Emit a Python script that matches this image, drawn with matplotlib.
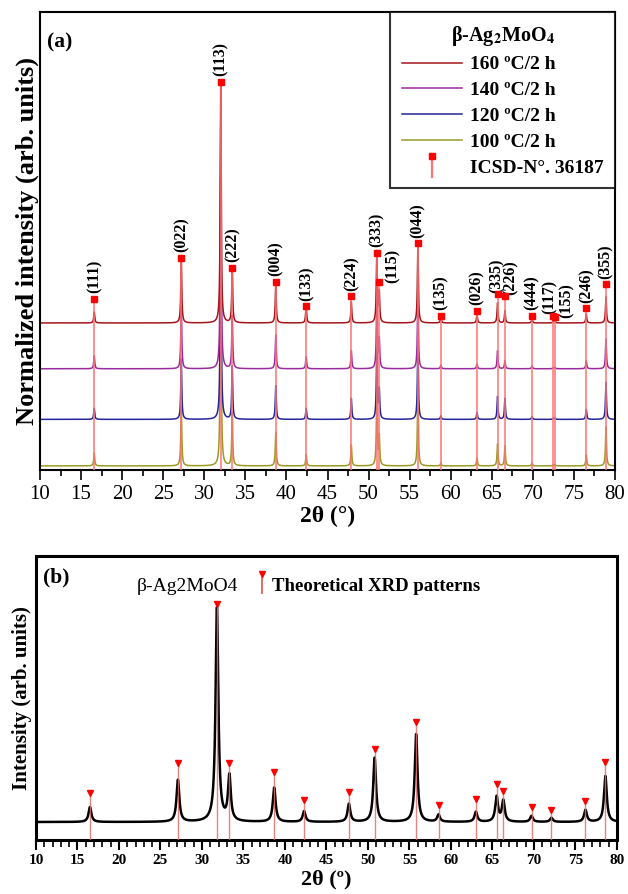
import numpy as np
import matplotlib
matplotlib.use("Agg")
import matplotlib.pyplot as plt
from matplotlib.legend_handler import HandlerBase
from matplotlib.lines import Line2D
from matplotlib.ticker import MultipleLocator


# ------------------------------------------------------------
# Panel (a): measured patterns + ICSD reference reflections
# ------------------------------------------------------------
hkl_labels = ["(111)", "(022)", "(113)", "(222)", "(004)", "(133)", "(224)",
              "(333)", "(115)", "(044)", "(135)", "(026)", "(335)", "(226)",
              "(444)", "(117)", "(155)", "(246)", "(355)"]
hkl_pos = [16.6, 27.2, 32.0, 33.4, 38.7, 42.4, 47.9, 51.0, 51.3, 56.0, 58.8,
           63.2, 65.7, 66.6, 69.9, 72.5, 72.7, 76.5, 78.9]
icsd_int = [10, 27, 100, 23, 17, 7, 11, 29, 17, 33, 3, 5, 12, 11, 3, 3, 2.5, 6, 16]

sample_labels = ["160 ºC/2 h", "140 ºC/2 h", "120 ºC/2 h", "100 ºC/2 h"]
int_160 = [4.6, 27, 100, 23, 16.6, 7.5, 8.7, 29.5, 12.4, 32, 2.5, 3.7, 8.3, 5.0, 1.7, 0.8, 0.8, 3.7, 10.8]
int_140 = [5.4, 26, 100, 22, 14, 5.0, 7.5, 28, 12, 31, 1.5, 2.0, 7.5, 3.3, 1.2, 0.5, 0.5, 3.3, 12.4]
int_120 = [4.6, 25, 100, 22, 14, 4.6, 8.7, 29, 12, 32, 1.5, 2.9, 9.5, 8.7, 1.2, 0.5, 0.5, 4.1, 15.4]
int_100 = [5.4, 25, 100, 22, 14, 4.6, 8.7, 29, 12, 32, 1.2, 3.3, 9.1, 8.3, 1.2, 0.5, 0.5, 4.6, 16.2]

# ------------------------------------------------------------
# Panel (b): theoretical pattern
# ------------------------------------------------------------
theo_pos = [16.5, 27.1, 31.8, 33.3, 38.7, 42.3, 47.7, 50.8, 55.8, 58.5, 63.0,
            65.5, 66.3, 69.7, 72.1, 76.2, 78.6]
theo_peak = [7, 19.6, 100, 21, 16, 5, 8.4, 30, 41, 3.3, 4.7, 11.7, 9.8, 2.8, 1.9, 5.6, 21.5]
theo_stick = [13.5, 27.6, 102, 27.6, 23.4, 10.3, 14, 34, 46.7, 8, 10.7, 17.8, 14.5, 7, 5.6, 9.8, 28]

plt.rcParams["font.family"] = ["Liberation Serif", "DejaVu Serif"]
plt.rcParams["mathtext.fontset"] = "stix"

colors = ["#a3161b", "#9a2b9e", "#25269a", "#9c9a24"]
offsets = [0.61, 0.42, 0.21, 0.017]
stem_color = "#ff7373"


def lorentz_pattern(x, centers, heights, hwhm):
    y = np.zeros_like(x)
    for c, h in zip(centers, heights):
        y += h / (1.0 + ((x - c) / hwhm) ** 2)
    return y


class StemHandler(HandlerBase):
    """Legend key: short vertical stick with a marker on top."""

    def __init__(self, low=0.35, high=0.25):
        super().__init__()
        self.low = low
        self.high = high

    def create_artists(self, legend, orig_handle, xdescent, ydescent,
                       width, height, fontsize, trans):
        x = width / 2 - xdescent
        top = height - ydescent + self.high * height
        line = Line2D([x, x], [-ydescent - self.low * height, top],
                      color=orig_handle.get_color(), lw=orig_handle.get_linewidth())
        mark = Line2D([x], [top], marker=orig_handle.get_marker(),
                      markersize=orig_handle.get_markersize(),
                      color=orig_handle.get_markerfacecolor(), lw=0)
        line.set_transform(trans)
        mark.set_transform(trans)
        return [line, mark]


fig = plt.figure(figsize=(6.28, 8.94), dpi=100)
ax1 = fig.add_axes([40 / 628, 1 - 470 / 894, 575 / 628, 458 / 894])
ax2 = fig.add_axes([36 / 628, 1 - 840 / 894, 581 / 628, 284 / 894])

x = np.linspace(10, 80, 14001)

# --- panel (a)
all_int = [int_160, int_140, int_120, int_100]
handles = []
for i in range(3, -1, -1):
    y = offsets[i] + lorentz_pattern(x, hkl_pos, np.array(all_int[i]) / 100.0, 0.07)
    (ln,) = ax1.plot(x, y, color=colors[i], lw=1.1, zorder=2 + (3 - i) * 0.1)
    handles.insert(0, ln)

icsd_y = [offsets[0] + v / 100.0 for v in icsd_int]
ax1.vlines(hkl_pos, 0, icsd_y, color=stem_color, lw=1.4, alpha=0.8, zorder=3)
ax1.plot(hkl_pos, icsd_y, ls="none", marker="s", ms=5, color="red", zorder=4)

nudges = {"(115)": (10, -1), "(155)": (8, -1), "(226)": (4, 1), "(335)": (-1, 1),
          "(117)": (-3, 1)}
for lab, px, py in zip(hkl_labels, hkl_pos, icsd_y):
    dx, dy = nudges.get(lab, (0, 4))
    ax1.annotate(lab, (px, py), xytext=(dx, dy), textcoords="offset points",
                 rotation=90, ha="center", va="bottom", fontsize=11.5,
                 fontweight="bold")

icsd_handle = Line2D([], [], color=stem_color, lw=1.6, marker="s", ms=5,
                     markerfacecolor="red")
leg = ax1.legend(handles + [icsd_handle], sample_labels + ["ICSD-N°. 36187"],
                 loc="upper right", borderaxespad=0, frameon=True, fancybox=False,
                 edgecolor="black", handlelength=3.1, handletextpad=0.4,
                 labelspacing=0.42, borderpad=0.6,
                 title=r"β-Ag$_\mathbf{2}$MoO$_\mathbf{4}$",
                 prop={"weight": "bold", "size": 14},
                 handler_map={icsd_handle: StemHandler()})
leg.get_title().set_fontweight("bold")
leg.get_title().set_fontsize(14.5)
leg.get_frame().set_linewidth(1.5)
leg.set_zorder(10)

ax1.text(0.012, 0.955, "(a)", transform=ax1.transAxes, fontsize=15.5,
         fontweight="bold", va="top")
ax1.set_xlim(10, 80)
ax1.set_ylim(0, 1.90)
ax1.set_yticks([])
ax1.xaxis.set_major_locator(MultipleLocator(5))
ax1.xaxis.set_minor_locator(MultipleLocator(2.5))
ax1.tick_params(axis="x", which="major", direction="out", length=7, width=1.2,
                labelsize=15, pad=4)
ax1.tick_params(axis="x", which="minor", direction="out", length=4, width=1.2)
ax1.set_xlabel("2θ (°)", fontsize=17, fontweight="bold", labelpad=1)
ax1.set_ylabel("Normalized intensity (arb. units)", fontsize=19,
               fontweight="bold", labelpad=1)
for sp in ax1.spines.values():
    sp.set_linewidth(1.5)

# --- panel (b)
yb = lorentz_pattern(x, theo_pos, theo_peak, 0.2)
ax2.plot(x, yb, color="black", lw=1.8, zorder=2)
ax2.vlines(theo_pos, -8.4, theo_stick, color="#e26d6d", lw=1.0, alpha=0.85, zorder=3)
ax2.plot(theo_pos, theo_stick, ls="none", marker="v", ms=5, color="red", zorder=4)

blank = Line2D([], [], color="none")
theo_handle = Line2D([], [], color="#e26d6d", lw=1.4, marker="v", ms=5,
                     markerfacecolor="red")
leg2 = ax2.legend([blank, theo_handle], ["β-Ag2MoO4", "Theoretical XRD patterns"],
                  ncol=2, loc="upper left", bbox_to_anchor=(0.115, 0.985),
                  frameon=False, handlelength=0.6, handletextpad=0.25,
                  columnspacing=0.9, prop={"size": 14},
                  handler_map={theo_handle: StemHandler(low=0.1, high=0.3)})
leg2.get_texts()[1].set_fontweight("bold")
leg2.get_texts()[1].set_fontsize(13.5)

ax2.text(0.012, 0.96, "(b)", transform=ax2.transAxes, fontsize=15.5,
         fontweight="bold", va="top")
ax2.set_xlim(10, 80)
ax2.set_ylim(-8.4, 124.3)
ax2.set_yticks([])
ax2.xaxis.set_major_locator(MultipleLocator(5))
ax2.xaxis.set_minor_locator(MultipleLocator(1))
ax2.tick_params(axis="x", which="major", direction="out", length=7, width=1.5,
                labelsize=11, pad=3)
ax2.tick_params(axis="x", which="minor", direction="out", length=5, width=1.2)
for t in ax2.get_xticklabels():
    t.set_fontweight("bold")
ax2.set_xlabel("2θ (º)", fontsize=16, fontweight="bold", labelpad=2)
ax2.set_ylabel("Intensity (arb. units)", fontsize=15, fontweight="bold",
               labelpad=3)
for sp in ax2.spines.values():
    sp.set_linewidth(2.2)

fig.savefig("out.png", dpi=100)
